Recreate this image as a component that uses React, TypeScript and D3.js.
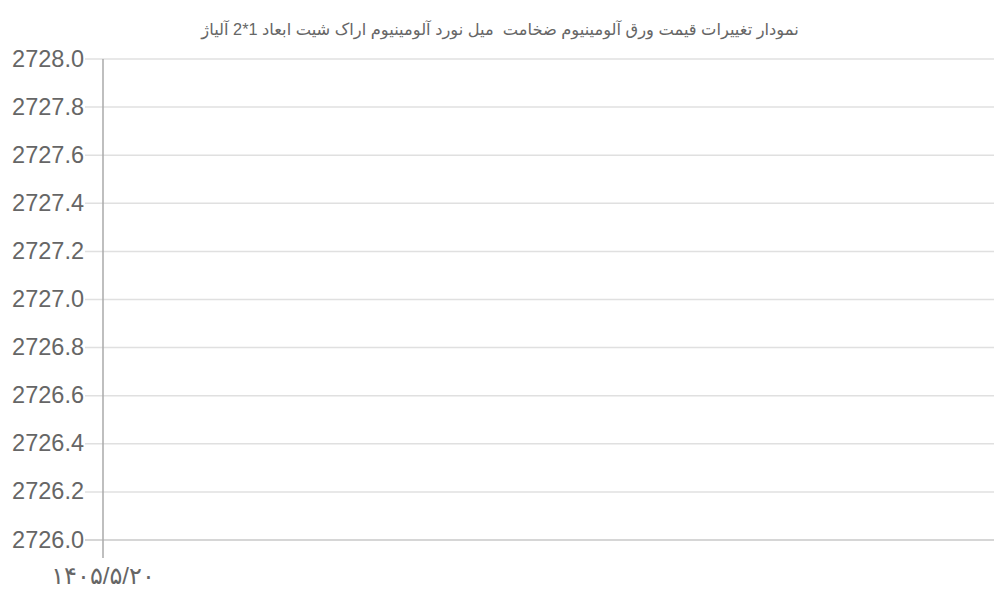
import React from "react";
import * as d3 from "d3";

const title = "نمودار تغییرات قیمت ورق آلومینیوم ضخامت  میل نورد آلومینیوم اراک شیت ابعاد 1*2 آلیاژ";
const categories = ["۱۴۰۵/۵/۲۰"];
const values = [2727];
const yTicks = [2726.0, 2726.2, 2726.4, 2726.6, 2726.8, 2727.0, 2727.2, 2727.4, 2727.6, 2727.8, 2728.0];

export default function App() {
  const W = 1000, H = 600;
  const left = 103, right = 994, top = 59, bottom = 540;
  const y = d3.scaleLinear().domain([2726, 2728]).range([bottom, top]);
  const x = d3.scalePoint<string>().domain(categories).range([left, right]).align(0);
  const line = d3.line<number>().x((_, i) => x(categories[i])!).y((d) => y(d));
  return (
    <svg width={W} height={H} style={{ position: "absolute", left: 0, top: 0 }} fontFamily="Arial, 'Liberation Sans', 'DejaVu Sans', sans-serif">
      <text x={500} y={35} textAnchor="middle" fontSize={16.3} fill="#666" style={{ whiteSpace: "pre" }}>{title}</text>
      {yTicks.map((t) => (
        <g key={t}>
          <line x1={85} x2={right} y1={y(t)} y2={y(t)} stroke={t === 2726 ? "#c8c8c8" : "#e0e0e0"} strokeWidth={1.5} />
          <text x={84} y={y(t) + 7.5} textAnchor="end" fontSize={23.5} fill="#666">{t.toFixed(1)}</text>
        </g>
      ))}
      <line x1={left} x2={left} y1={top} y2={558} stroke="#aaa" strokeWidth={1.5} />
      {categories.map((c) => (
        <text key={c} x={x(c)} y={584} textAnchor="middle" fontSize={24} fill="#666">{c}</text>
      ))}
      <path d={line(values) || ""} fill="none" stroke="rgba(0,0,0,0)" />
    </svg>
  );
}
